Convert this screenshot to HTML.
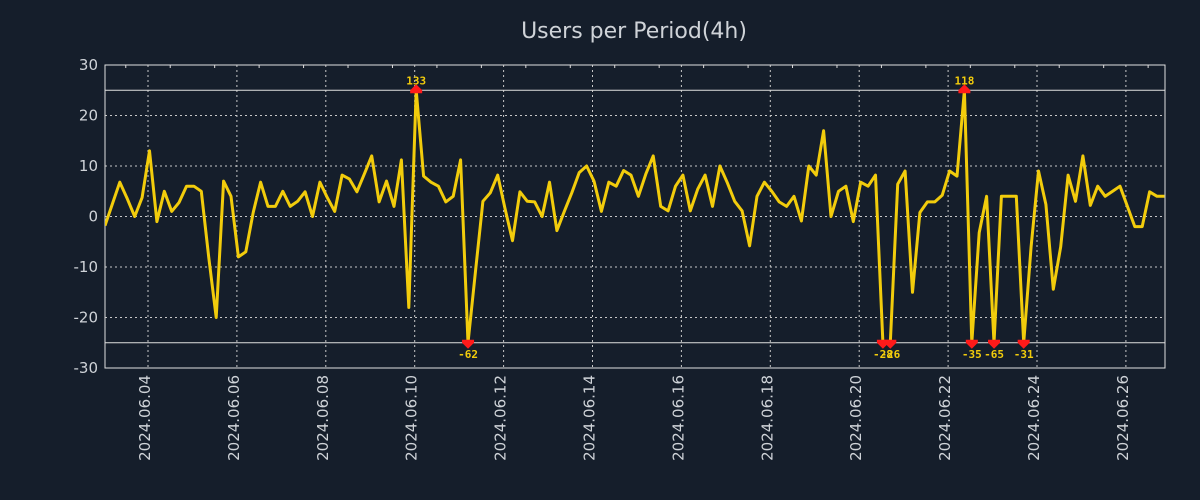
<!DOCTYPE html>
<html><head><meta charset="utf-8">
<style>
html,body{margin:0;padding:0;background:#151e2b;}
svg{display:block;font-family:"DejaVu Sans","Liberation Sans",sans-serif;}
</style></head>
<body>
<svg id="chart" width="1200" height="500" viewBox="0 0 1200 500" xmlns="http://www.w3.org/2000/svg">
<rect x="0" y="0" width="1200" height="500" fill="#151e2b"/>
<text x="634" y="38" text-anchor="middle" font-size="22" fill="#cfd3d8">Users per Period(4h)</text>
<g id="grid"></g>
<g id="axes"></g>
<g id="series"></g>
<g id="marks"></g>
</svg>
<script>
const values = [-1.8,2.5,6.8,3.5,0,3.75,13,-1,5,1,2.8,6,6,5,-8,-20,7,4,-8,-7,0.8,6.8,2,2,5,
2,3,4.9,0,6.8,3.75,1,8.2,7.4,4.9,8.4,12,2.9,7,2,11.2,-18,133,8,6.8,6,2.9,4,11.2,-62,
-11,3,4.7,8.2,1.5,-4.8,4.9,3,2.9,0,6.8,-2.8,1,4.7,8.7,10,7,1,6.8,6,9.1,8.2,4,8.4,
12,2,1.1,6,8.2,1.1,5.4,8.2,2,10,6.7,3,1.1,-5.8,4,6.8,5,2.9,2,4,-0.9,10,8.2,17,
0,5,6,-1,6.8,6,8.2,-28,-26,6.4,9,-15,0.8,2.9,2.9,4.2,9,8,118,-35,-3.2,4,-65,4,
4,4,-31,-6,9,2.4,-14.4,-6,8.2,3,12,2.2,6,4,5,6,2,-2,-2,4.9,4,4];
const yTicks = [30,20,10,0,-10,-20,-30];
const xTickLabels = ["2024.06.04","2024.06.06","2024.06.08","2024.06.10","2024.06.12","2024.06.14","2024.06.16","2024.06.18","2024.06.20","2024.06.22","2024.06.24","2024.06.26"];
const xTickHours = [24,72,120,168,216,264,312,360,408,456,504,552];
const clipLimit = 25;
const startHour = 0.8, stepHours = 4;

const NS="http://www.w3.org/2000/svg";
const L=105,R=1165,T=65,B=368;
const hourToX = h => 148 + (h-24)*(44.45/24);
const idxX = i => hourToX(startHour + i*stepHours);
const yS = v => B - (v+30)/60*(B-T);
function mk(tag, attrs, parent){const e=document.createElementNS(NS,tag);for(const k in attrs)e.setAttribute(k,attrs[k]);parent.appendChild(e);return e;}
const grid=document.getElementById('grid'),axes=document.getElementById('axes'),series=document.getElementById('series'),marks=document.getElementById('marks');

yTicks.forEach(v=>{
  const y=yS(v);
  if(v!==30&&v!==-30){const g=mk('line',{x1:L,x2:R,y1:y,y2:y,stroke:'#c8c8c8','stroke-width':1,'stroke-dasharray':'2,3'},grid);
  
  }
  const t=mk('text',{x:98,y:y+5,'text-anchor':'end','font-size':15,fill:'#cfd3d8'},axes);
  t.textContent=v;
  
  
});
xTickHours.forEach((h,k)=>{
  const x=hourToX(h);
  const g=mk('line',{x1:x,x2:x,y1:T,y2:B,stroke:'#c8c8c8','stroke-width':1,'stroke-dasharray':'2,3'},grid);
  
  
  const t=mk('text',{x:0,y:0,'text-anchor':'end','font-size':15,fill:'#cfd3d8',transform:`translate(${x+2},375) rotate(-90)`},axes);
  t.textContent=xTickLabels[k];
  
  
});
for(let h=12;h<600;h+=24){const x=hourToX(h);if(x<L||x>R)continue;
  const m=mk('line',{x1:x,x2:x,y1:T,y2:T+3,stroke:'#ddd'},axes);
  
  }
const frame=mk('rect',{x:L,y:T,width:R-L,height:B-T,fill:'none',stroke:'#e0e0e0','stroke-width':1},axes);


[clipLimit,-clipLimit].forEach(v=>{
  const l=mk('line',{x1:L,x2:R,y1:yS(v),y2:yS(v),stroke:'#e0e0e0','stroke-width':1},axes);
  
  
});
let d='';
values.forEach((v,i)=>{const c=Math.max(-clipLimit,Math.min(clipLimit,v));d+=(i?'L':'M')+idxX(i).toFixed(1)+','+yS(c).toFixed(1);});
const cp=mk('clipPath',{id:'pc'},series);mk('rect',{x:L,y:T,width:R-L,height:B-T},cp);
const line=mk('path',{d:d,fill:'none',stroke:'#f2cc0c','stroke-width':3,'stroke-linejoin':'round','clip-path':'url(#pc)'},series);


values.forEach((v,i)=>{
  if(Math.abs(v)<=clipLimit)return;
  const x=idxX(i),up=v>0,y=yS(up?clipLimit:-clipLimit);
  const pts=up?`${x-6},${y+3} ${x+6},${y+3} ${x+6},${y} ${x},${y-6} ${x-6},${y}`:`${x-6},${y-3} ${x+6},${y-3} ${x+6},${y} ${x},${y+6} ${x-6},${y}`;
  const tri=mk('polygon',{points:pts,fill:'#ff1a1a'},marks);
  
  
  const t=mk('text',{x:x,y:up?y-6:y+15,'text-anchor':'middle','font-size':11,'font-weight':'bold','font-family':'"DejaVu Sans Mono","Liberation Mono",monospace',fill:'#f2cc0c'},marks);
  t.textContent=Math.round(v);
  
  
});
</script>
</body></html>
